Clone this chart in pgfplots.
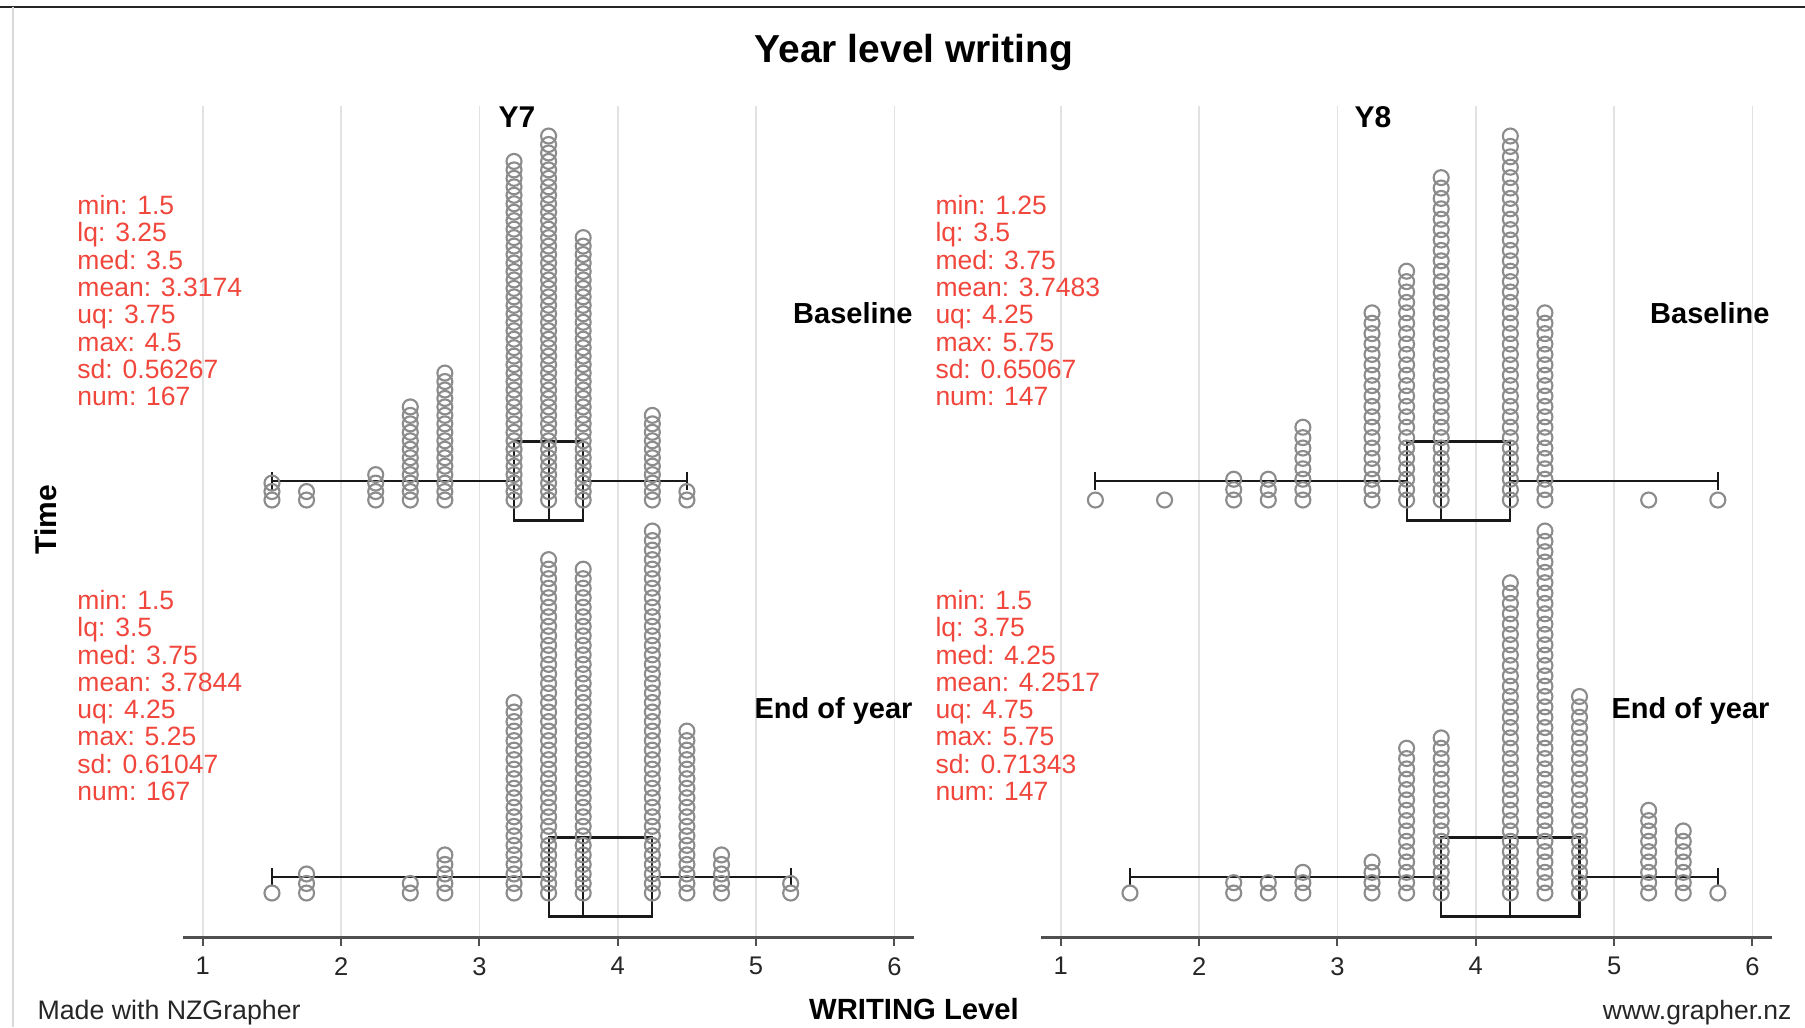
\documentclass[border=0pt]{standalone}
\usepackage{pgfplots}
\pgfplotsset{compat=1.18}
\usepgfplotslibrary{statistics}
\usepackage{fontspec}
\setmainfont{Liberation Sans}
\definecolor{statred}{RGB}{240,70,60}
\definecolor{dotgray}{RGB}{140,140,140}
\definecolor{gridgray}{RGB}{226,226,226}
\definecolor{boxcol}{RGB}{25,25,25}
\definecolor{axiscol}{RGB}{80,80,80}

\pgfplotsset{
  panel/.style={
    scale only axis, width=292.4pt, height=332.4pt,
    anchor=south west,
    xmin=0.855, xmax=6.14, ymin=-937, ymax=-106,
    axis x line*=bottom, axis y line=none,
    xtick={1,2,3,4,5,6},
    xmajorgrids, grid style={gridgray, line width=0.6pt},
    axis line style={axiscol, line width=1.2pt},
    tick align=outside, major tick length=3.6pt,
    tick style={axiscol, line width=0.8pt},
    xticklabel style={font=\fontsize{10.2}{12}\selectfont, text=black!85, yshift=-1pt},
    /pgf/number format/assume math mode=true,
    clip=false,
  },
  dots/.style={only marks, mark=o, mark size=3pt, color=dotgray, mark options={line width=0.85pt}},
  y7b/.style={dots, y filter/.expression={-500+(y-1)*8.465}},
  y7e/.style={dots, y filter/.expression={-893+(y-1)*9.526}},
  y8b/.style={dots, y filter/.expression={-500+(y-1)*10.4}},
  y8e/.style={dots, y filter/.expression={-893+(y-1)*10.343}},
  bx/.style={boxcol, line width=0.85pt, solid, mark=none},
}

\begin{document}
\begin{tikzpicture}
\path[use as bounding box] (0,0) rectangle (722pt,-410.8pt);
\draw[black!85, line width=0.8pt] (0,-2.6pt) -- (722pt,-2.6pt);
\draw[black!15, line width=0.6pt] (5.1pt,-2.6pt) -- (5.1pt,-410.8pt);

% ---------------- Y7 ----------------
\begin{axis}[panel, at={(73.1pt,-374.8pt)}]
% Baseline dots (value, stack position)
\addplot[y7b] coordinates {
(1.5,1)(1.5,2)(1.5,3)
(1.75,1)(1.75,2)
(2.25,1)(2.25,2)(2.25,3)(2.25,4)
(2.5,1)(2.5,2)(2.5,3)(2.5,4)(2.5,5)(2.5,6)(2.5,7)(2.5,8)(2.5,9)(2.5,10)(2.5,11)(2.5,12)
(2.75,1)(2.75,2)(2.75,3)(2.75,4)(2.75,5)(2.75,6)(2.75,7)(2.75,8)(2.75,9)(2.75,10)(2.75,11)(2.75,12)(2.75,13)(2.75,14)(2.75,15)(2.75,16)
(3.25,1)(3.25,2)(3.25,3)(3.25,4)(3.25,5)(3.25,6)(3.25,7)(3.25,8)(3.25,9)(3.25,10)
(3.25,11)(3.25,12)(3.25,13)(3.25,14)(3.25,15)(3.25,16)(3.25,17)(3.25,18)(3.25,19)(3.25,20)
(3.25,21)(3.25,22)(3.25,23)(3.25,24)(3.25,25)(3.25,26)(3.25,27)(3.25,28)(3.25,29)(3.25,30)
(3.25,31)(3.25,32)(3.25,33)(3.25,34)(3.25,35)(3.25,36)(3.25,37)(3.25,38)(3.25,39)(3.25,40)(3.25,41)
(3.5,1)(3.5,2)(3.5,3)(3.5,4)(3.5,5)(3.5,6)(3.5,7)(3.5,8)(3.5,9)(3.5,10)
(3.5,11)(3.5,12)(3.5,13)(3.5,14)(3.5,15)(3.5,16)(3.5,17)(3.5,18)(3.5,19)(3.5,20)
(3.5,21)(3.5,22)(3.5,23)(3.5,24)(3.5,25)(3.5,26)(3.5,27)(3.5,28)(3.5,29)(3.5,30)
(3.5,31)(3.5,32)(3.5,33)(3.5,34)(3.5,35)(3.5,36)(3.5,37)(3.5,38)(3.5,39)(3.5,40)
(3.5,41)(3.5,42)(3.5,43)(3.5,44)
(3.75,1)(3.75,2)(3.75,3)(3.75,4)(3.75,5)(3.75,6)(3.75,7)(3.75,8)(3.75,9)(3.75,10)
(3.75,11)(3.75,12)(3.75,13)(3.75,14)(3.75,15)(3.75,16)(3.75,17)(3.75,18)(3.75,19)(3.75,20)
(3.75,21)(3.75,22)(3.75,23)(3.75,24)(3.75,25)(3.75,26)(3.75,27)(3.75,28)(3.75,29)(3.75,30)
(3.75,31)(3.75,32)
(4.25,1)(4.25,2)(4.25,3)(4.25,4)(4.25,5)(4.25,6)(4.25,7)(4.25,8)(4.25,9)(4.25,10)(4.25,11)
(4.5,1)(4.5,2)
};
% End of year dots
\addplot[y7e] coordinates {
(1.5,1)
(1.75,1)(1.75,2)(1.75,3)
(2.5,1)(2.5,2)
(2.75,1)(2.75,2)(2.75,3)(2.75,4)(2.75,5)
(3.25,1)(3.25,2)(3.25,3)(3.25,4)(3.25,5)(3.25,6)(3.25,7)(3.25,8)(3.25,9)(3.25,10)
(3.25,11)(3.25,12)(3.25,13)(3.25,14)(3.25,15)(3.25,16)(3.25,17)(3.25,18)(3.25,19)(3.25,20)(3.25,21)
(3.5,1)(3.5,2)(3.5,3)(3.5,4)(3.5,5)(3.5,6)(3.5,7)(3.5,8)(3.5,9)(3.5,10)
(3.5,11)(3.5,12)(3.5,13)(3.5,14)(3.5,15)(3.5,16)(3.5,17)(3.5,18)(3.5,19)(3.5,20)
(3.5,21)(3.5,22)(3.5,23)(3.5,24)(3.5,25)(3.5,26)(3.5,27)(3.5,28)(3.5,29)(3.5,30)
(3.5,31)(3.5,32)(3.5,33)(3.5,34)(3.5,35)(3.5,36)
(3.75,1)(3.75,2)(3.75,3)(3.75,4)(3.75,5)(3.75,6)(3.75,7)(3.75,8)(3.75,9)(3.75,10)
(3.75,11)(3.75,12)(3.75,13)(3.75,14)(3.75,15)(3.75,16)(3.75,17)(3.75,18)(3.75,19)(3.75,20)
(3.75,21)(3.75,22)(3.75,23)(3.75,24)(3.75,25)(3.75,26)(3.75,27)(3.75,28)(3.75,29)(3.75,30)
(3.75,31)(3.75,32)(3.75,33)(3.75,34)(3.75,35)
(4.25,1)(4.25,2)(4.25,3)(4.25,4)(4.25,5)(4.25,6)(4.25,7)(4.25,8)(4.25,9)(4.25,10)
(4.25,11)(4.25,12)(4.25,13)(4.25,14)(4.25,15)(4.25,16)(4.25,17)(4.25,18)(4.25,19)(4.25,20)
(4.25,21)(4.25,22)(4.25,23)(4.25,24)(4.25,25)(4.25,26)(4.25,27)(4.25,28)(4.25,29)(4.25,30)
(4.25,31)(4.25,32)(4.25,33)(4.25,34)(4.25,35)(4.25,36)(4.25,37)(4.25,38)(4.25,39)
(4.5,1)(4.5,2)(4.5,3)(4.5,4)(4.5,5)(4.5,6)(4.5,7)(4.5,8)(4.5,9)(4.5,10)
(4.5,11)(4.5,12)(4.5,13)(4.5,14)(4.5,15)(4.5,16)(4.5,17)(4.5,18)
(4.75,1)(4.75,2)(4.75,3)(4.75,4)(4.75,5)
(5.25,1)(5.25,2)
};
\addplot[bx, boxplot prepared={lower whisker=1.5, lower quartile=3.25, median=3.5, upper quartile=3.75, upper whisker=4.5, draw position=-481, box extend=79, whisker extend=18, draw direction=x}] coordinates {};
\addplot[bx, boxplot prepared={lower whisker=1.5, lower quartile=3.5, median=3.75, upper quartile=4.25, upper whisker=5.25, draw position=-877, box extend=79, whisker extend=18, draw direction=x}] coordinates {};
\end{axis}

% ---------------- Y8 ----------------
\begin{axis}[panel, at={(416.3pt,-374.8pt)}]
\addplot[y8b] coordinates {
(1.25,1)
(1.75,1)
(2.25,1)(2.25,2)(2.25,3)
(2.5,1)(2.5,2)(2.5,3)
(2.75,1)(2.75,2)(2.75,3)(2.75,4)(2.75,5)(2.75,6)(2.75,7)(2.75,8)
(3.25,1)(3.25,2)(3.25,3)(3.25,4)(3.25,5)(3.25,6)(3.25,7)(3.25,8)(3.25,9)(3.25,10)
(3.25,11)(3.25,12)(3.25,13)(3.25,14)(3.25,15)(3.25,16)(3.25,17)(3.25,18)(3.25,19)
(3.5,1)(3.5,2)(3.5,3)(3.5,4)(3.5,5)(3.5,6)(3.5,7)(3.5,8)(3.5,9)(3.5,10)
(3.5,11)(3.5,12)(3.5,13)(3.5,14)(3.5,15)(3.5,16)(3.5,17)(3.5,18)(3.5,19)(3.5,20)
(3.5,21)(3.5,22)(3.5,23)
(3.75,1)(3.75,2)(3.75,3)(3.75,4)(3.75,5)(3.75,6)(3.75,7)(3.75,8)(3.75,9)(3.75,10)
(3.75,11)(3.75,12)(3.75,13)(3.75,14)(3.75,15)(3.75,16)(3.75,17)(3.75,18)(3.75,19)(3.75,20)
(3.75,21)(3.75,22)(3.75,23)(3.75,24)(3.75,25)(3.75,26)(3.75,27)(3.75,28)(3.75,29)(3.75,30)
(3.75,31)(3.75,32)
(4.25,1)(4.25,2)(4.25,3)(4.25,4)(4.25,5)(4.25,6)(4.25,7)(4.25,8)(4.25,9)(4.25,10)
(4.25,11)(4.25,12)(4.25,13)(4.25,14)(4.25,15)(4.25,16)(4.25,17)(4.25,18)(4.25,19)(4.25,20)
(4.25,21)(4.25,22)(4.25,23)(4.25,24)(4.25,25)(4.25,26)(4.25,27)(4.25,28)(4.25,29)(4.25,30)
(4.25,31)(4.25,32)(4.25,33)(4.25,34)(4.25,35)(4.25,36)
(4.5,1)(4.5,2)(4.5,3)(4.5,4)(4.5,5)(4.5,6)(4.5,7)(4.5,8)(4.5,9)(4.5,10)
(4.5,11)(4.5,12)(4.5,13)(4.5,14)(4.5,15)(4.5,16)(4.5,17)(4.5,18)(4.5,19)
(5.25,1)
(5.75,1)
};
\addplot[y8e] coordinates {
(1.5,1)
(2.25,1)(2.25,2)
(2.5,1)(2.5,2)
(2.75,1)(2.75,2)(2.75,3)
(3.25,1)(3.25,2)(3.25,3)(3.25,4)
(3.5,1)(3.5,2)(3.5,3)(3.5,4)(3.5,5)(3.5,6)(3.5,7)(3.5,8)(3.5,9)(3.5,10)
(3.5,11)(3.5,12)(3.5,13)(3.5,14)(3.5,15)
(3.75,1)(3.75,2)(3.75,3)(3.75,4)(3.75,5)(3.75,6)(3.75,7)(3.75,8)(3.75,9)(3.75,10)
(3.75,11)(3.75,12)(3.75,13)(3.75,14)(3.75,15)(3.75,16)
(4.25,1)(4.25,2)(4.25,3)(4.25,4)(4.25,5)(4.25,6)(4.25,7)(4.25,8)(4.25,9)(4.25,10)
(4.25,11)(4.25,12)(4.25,13)(4.25,14)(4.25,15)(4.25,16)(4.25,17)(4.25,18)(4.25,19)(4.25,20)
(4.25,21)(4.25,22)(4.25,23)(4.25,24)(4.25,25)(4.25,26)(4.25,27)(4.25,28)(4.25,29)(4.25,30)
(4.25,31)
(4.5,1)(4.5,2)(4.5,3)(4.5,4)(4.5,5)(4.5,6)(4.5,7)(4.5,8)(4.5,9)(4.5,10)
(4.5,11)(4.5,12)(4.5,13)(4.5,14)(4.5,15)(4.5,16)(4.5,17)(4.5,18)(4.5,19)(4.5,20)
(4.5,21)(4.5,22)(4.5,23)(4.5,24)(4.5,25)(4.5,26)(4.5,27)(4.5,28)(4.5,29)(4.5,30)
(4.5,31)(4.5,32)(4.5,33)(4.5,34)(4.5,35)(4.5,36)
(4.75,1)(4.75,2)(4.75,3)(4.75,4)(4.75,5)(4.75,6)(4.75,7)(4.75,8)(4.75,9)(4.75,10)
(4.75,11)(4.75,12)(4.75,13)(4.75,14)(4.75,15)(4.75,16)(4.75,17)(4.75,18)(4.75,19)(4.75,20)
(5.25,1)(5.25,2)(5.25,3)(5.25,4)(5.25,5)(5.25,6)(5.25,7)(5.25,8)(5.25,9)
(5.5,1)(5.5,2)(5.5,3)(5.5,4)(5.5,5)(5.5,6)(5.5,7)
(5.75,1)
};
\addplot[bx, boxplot prepared={lower whisker=1.25, lower quartile=3.5, median=3.75, upper quartile=4.25, upper whisker=5.75, draw position=-481, box extend=79, whisker extend=18, draw direction=x}] coordinates {};
\addplot[bx, boxplot prepared={lower whisker=1.5, lower quartile=3.75, median=4.25, upper quartile=4.75, upper whisker=5.75, draw position=-877, box extend=79, whisker extend=18, draw direction=x}] coordinates {};
\end{axis}

% ---------------- texts (pixel units) ----------------
\begin{scope}[x=0.4pt, y=-0.4pt]
\tikzset{
  stat/.style={anchor=base west, inner sep=0pt, text=statred, font=\fontsize{10.6}{12}\selectfont},
  lbl/.style={inner sep=0pt, font=\bfseries\fontsize{11.6}{13}\selectfont},
}
\node[inner sep=0pt, anchor=base, font=\bfseries\fontsize{15.6}{18}\selectfont] at (914,62) {Year level writing};
\node[inner sep=0pt, anchor=base, font=\bfseries\fontsize{12}{14}\selectfont] at (517,127) {Y7};
\node[inner sep=0pt, anchor=base, font=\bfseries\fontsize{12}{14}\selectfont] at (1373,127) {Y8};

\foreach \t [count=\i from 0] in {min: 1.5, lq: 3.25, med: 3.5, mean: 3.3174, uq: 3.75, max: 4.5, sd: 0.56267, num: 167}
  \node[stat] at (77,214.6+27.3*\i) {\t};
\foreach \t [count=\i from 0] in {min: 1.5, lq: 3.5, med: 3.75, mean: 3.7844, uq: 4.25, max: 5.25, sd: 0.61047, num: 167}
  \node[stat] at (77,609.4+27.3*\i) {\t};
\foreach \t [count=\i from 0] in {min: 1.25, lq: 3.5, med: 3.75, mean: 3.7483, uq: 4.25, max: 5.75, sd: 0.65067, num: 147}
  \node[stat] at (935,214.6+27.3*\i) {\t};
\foreach \t [count=\i from 0] in {min: 1.5, lq: 3.75, med: 4.25, mean: 4.2517, uq: 4.75, max: 5.75, sd: 0.71343, num: 147}
  \node[stat] at (935,609.4+27.3*\i) {\t};

\node[lbl, anchor=base east] at (913,323.8) {Baseline};
\node[lbl, anchor=base east] at (913,718.6) {End of year};
\node[lbl, anchor=base east] at (1770,323.8) {Baseline};
\node[lbl, anchor=base east] at (1770,718.6) {End of year};

\node[inner sep=0pt, rotate=90, font=\bfseries\fontsize{12}{14}\selectfont] at (46,520) {Time};
\node[inner sep=0pt, anchor=base, font=\bfseries\fontsize{11.7}{14}\selectfont] at (914,1019) {WRITING Level};
\node[inner sep=0pt, anchor=base west, font=\fontsize{10.7}{13}\selectfont, text=black!85] at (37,1019) {Made with NZGrapher};
\node[inner sep=0pt, anchor=base east, font=\fontsize{10.6}{13}\selectfont, text=black!85] at (1792,1019) {www.grapher.nz};
\end{scope}
\end{tikzpicture}
\end{document}
